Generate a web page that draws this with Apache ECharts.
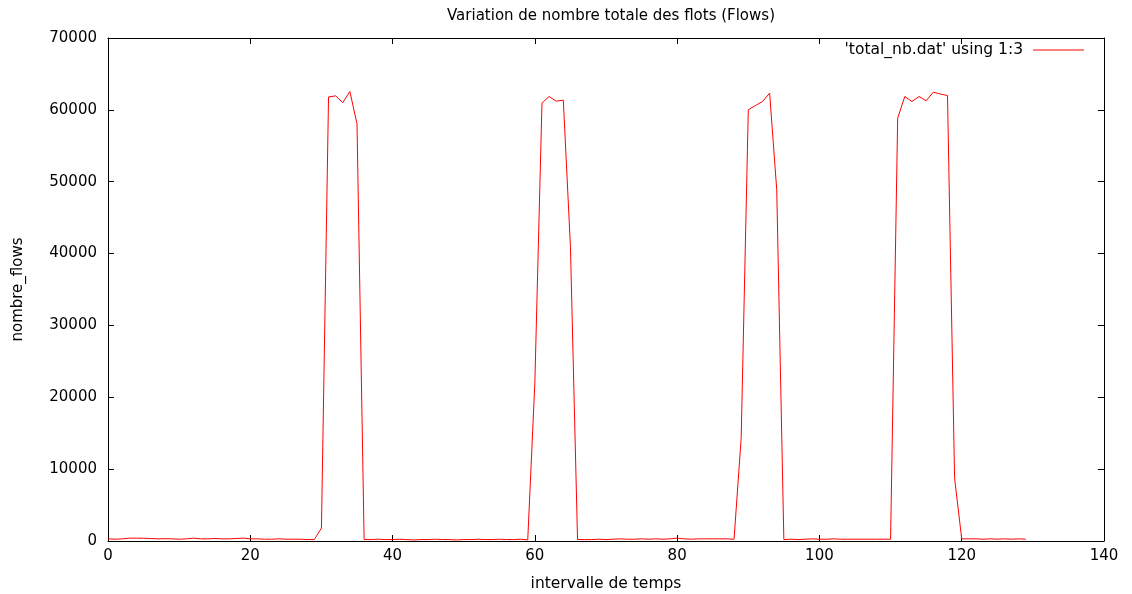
<!DOCTYPE html>
<html>
<head>
<meta charset="utf-8">
<title>Variation de nombre totale des flots</title>
<script src="https://cdn.jsdelivr.net/npm/echarts@6/dist/echarts.min.js"></script>
<style>
    html, body { margin: 0; padding: 0; background: #fff; }
    #chart { width: 1132px; height: 594px; }
</style>
</head>
<body>
<div id="chart"></div>
<script>
// intervalle de temps 0..129
const intervals = [];
for (let i = 0; i <= 129; i++) intervals.push(i);

// nombre de flows
const flows = [
    300, 250, 300, 400, 400, 380, 350, 300, 320, 300,
    250, 300, 400, 300, 300, 350, 300, 300, 350, 400,
    300, 300, 250, 250, 300, 250, 250, 250, 200, 200,
    1800, 61800, 61950, 61000, 62550, 58050, 200, 200, 250, 200,
    200, 250, 200, 150, 200, 200, 250, 200, 200, 150,
    200, 200, 250, 200, 200, 250, 200, 200, 250, 150,
    22000, 60930, 61860, 61210, 61350, 41000, 200, 200, 200, 250,
    200, 250, 300, 250, 250, 300, 250, 300, 250, 300,
    400, 300, 250, 300, 300, 300, 300, 300, 250, 14300,
    60000, 60600, 61160, 62330, 48860, 200, 250, 200, 250, 300,
    250, 250, 300, 250, 250, 250, 250, 250, 250, 250,
    250, 58840, 61860, 61160, 61860, 61260, 62460, 62200, 62000, 8730,
    300, 300, 300, 250, 300, 250, 300, 250, 300, 250
];

const xTicks = [0, 20, 40, 60, 80, 100, 120, 140];
const yTicks = [0, 10000, 20000, 30000, 40000, 50000, 60000, 70000];

const seriesName = "'total_nb.dat' using 1:3";
const font = 'DejaVu Sans';

const chart = echarts.init(document.getElementById('chart'));

const axisLine = { show: true, onZero: false, lineStyle: { color: '#000', width: 1 } };
const tick = { show: true, inside: true, length: 6, lineStyle: { color: '#000' } };

const option = {
    animation: false,
    backgroundColor: '#fff',
    title: {
        text: 'Variation de nombre totale des flots (Flows)',
        left: 606,
        textAlign: 'center',
        top: 4,
        textStyle: { fontFamily: font, fontSize: 15, fontWeight: 'normal', color: '#000' }
    },
    legend: {
        data: [seriesName],
        right: 43,
        top: 37,
        align: 'right',
        icon: 'rect',
        itemWidth: 51,
        itemHeight: 1,
        itemGap: 10,
        textStyle: { fontFamily: font, fontSize: 15.5, color: '#000', padding: [0, 5, 0, 0] }
    },
    grid: { left: 108, right: 28, top: 38, bottom: 53, outerBoundsMode: 'none' },
    xAxis: [
        {
            type: 'value',
            min: 0, max: 140, interval: 20,
            name: 'intervalle de temps',
            nameLocation: 'middle',
            nameGap: 35,
            nameTextStyle: { fontFamily: font, fontSize: 15.5, color: '#000' },
            axisLine: axisLine,
            axisTick: tick,
            splitLine: { show: false },
            axisLabel: {
                fontFamily: font, fontSize: 15, color: '#000', margin: 8,
                customValues: xTicks,
                formatter: v => String(v)
            }
        },
        {
            type: 'value',
            position: 'top',
            min: 0, max: 140, interval: 20,
            axisLine: axisLine,
            axisTick: tick,
            splitLine: { show: false },
            axisLabel: { show: false }
        }
    ],
    yAxis: [
        {
            type: 'value',
            min: 0, max: 70000, interval: 10000,
            name: 'nombre_flows',
            nameLocation: 'middle',
            nameGap: 82,
            nameTextStyle: { fontFamily: font, fontSize: 15, color: '#000' },
            axisLine: axisLine,
            axisTick: tick,
            splitLine: { show: false },
            axisLabel: {
                fontFamily: font, fontSize: 15, color: '#000', margin: 11,
                customValues: yTicks,
                formatter: v => String(v)
            }
        },
        {
            type: 'value',
            position: 'right',
            min: 0, max: 70000, interval: 10000,
            axisLine: axisLine,
            axisTick: tick,
            splitLine: { show: false },
            axisLabel: { show: false }
        }
    ],
    series: [
        {
            name: seriesName,
            type: 'line',
            data: intervals.map((x, i) => [x, flows[i]]),
            showSymbol: false,
            symbol: 'none',
            lineStyle: { color: '#ff0000', width: 1 },
            itemStyle: { color: '#ff0000' }
        }
    ]
};

chart.setOption(option);
</script>
</body>
</html>
